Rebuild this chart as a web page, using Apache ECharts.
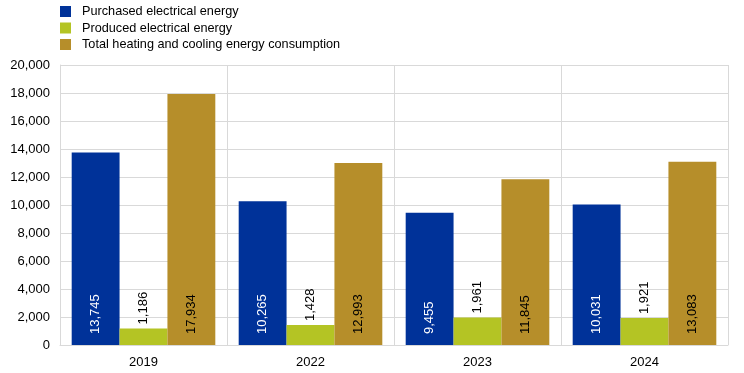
<!DOCTYPE html>
<html><head><meta charset="utf-8">
<script src="https://cdn.jsdelivr.net/npm/echarts@6/dist/echarts.min.js"></script>
<style>html,body{margin:0;padding:0;background:#fff}#c{width:744px;height:373px}</style>
</head><body><div id="c"></div>
<script>
const categories = ['2019', '2022', '2023', '2024'];
const purchased = [13745, 10265, 9455, 10031];
const produced = [1186, 1428, 1961, 1921];
const heating = [17934, 12993, 11845, 13083];
const seriesNames = ['Purchased electrical energy', 'Produced electrical energy', 'Total heating and cooling energy consumption'];
const yTicks = { min: 0, max: 20000, interval: 2000 };

const fmt = v => v.toLocaleString('en-US');
const font = 'Liberation Sans, Arial, sans-serif';
const chart = echarts.init(document.getElementById('c'));
const lbl = (pos, color, dist) => ({
  show: true, position: pos, rotate: 90, align: 'left', verticalAlign: 'middle',
  distance: dist, color: color, fontSize: 13, fontFamily: font,
  formatter: p => fmt(p.value)
});
chart.setOption({
  animation: false,
  textStyle: { fontFamily: font },
  legend: {
    orient: 'vertical', left: 55, top: -1, itemWidth: 11, itemHeight: 11, itemGap: 1.5,
    icon: 'rect',
    textStyle: { fontSize: 12.7, color: '#000', fontFamily: font, padding: [0, 0, 0, 6], lineHeight: 15 },
    data: seriesNames
  },
  grid: { left: 60, right: 16, top: 65, bottom: 28, containLabel: false },
  xAxis: {
    type: 'category', data: categories,
    axisLine: { show: true, lineStyle: { color: '#d9d9d9' } },
    axisTick: { show: false },
    axisLabel: { color: '#000', fontSize: 13, fontFamily: font, margin: 11 },
    splitLine: { show: true, lineStyle: { color: '#d9d9d9' } }
  },
  yAxis: {
    type: 'value', min: yTicks.min, max: yTicks.max, interval: yTicks.interval,
    axisLine: { show: true, lineStyle: { color: '#d9d9d9' } },
    axisTick: { show: false },
    axisLabel: { color: '#000', fontSize: 13, fontFamily: font, margin: 10, formatter: v => fmt(v) },
    splitLine: { show: true, lineStyle: { color: '#d9d9d9' } }
  },
  series: [
    { name: seriesNames[0], type: 'bar', data: purchased, barGap: '0%', barCategoryGap: '14%',
      itemStyle: { color: '#003299' }, label: lbl('insideBottom', '#fff', 11) },
    { name: seriesNames[1], type: 'bar', data: produced, barGap: '0%', barCategoryGap: '14%',
      itemStyle: { color: '#b4c424' }, label: lbl('top', '#000', 4) },
    { name: seriesNames[2], type: 'bar', data: heating, barGap: '0%', barCategoryGap: '14%',
      itemStyle: { color: '#b68e2a' }, label: lbl('insideBottom', '#000', 11) }
  ]
});
</script></body></html>
